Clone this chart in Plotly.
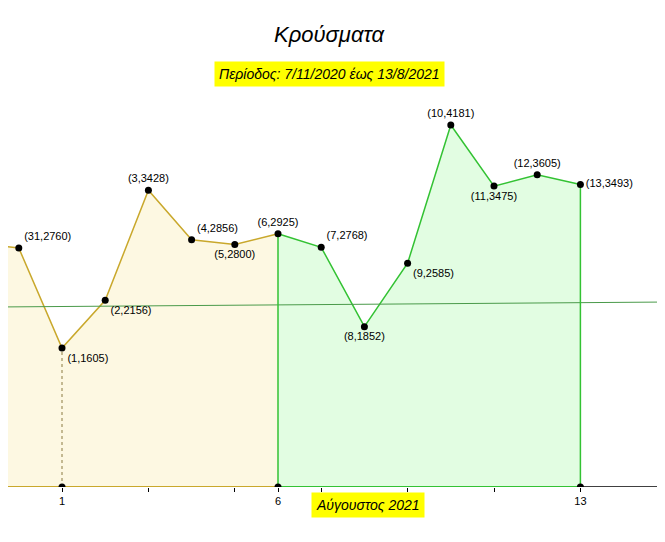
import plotly.graph_objects as go

# days: July 30 = -1, July 31 = 0, August n = n
days_before = [-1, 0, 1, 2, 3, 4, 5, 6]
cases_before = [2820, 2760, 1605, 2156, 3428, 2856, 2800, 2925]
days_after = [6, 7, 8, 9, 10, 11, 12, 13]
cases_after = [2925, 2768, 1852, 2585, 4181, 3475, 3605, 3493]
labels = ["(31,2760)", "(1,1605)", "(2,2156)", "(3,3428)", "(4,2856)", "(5,2800)", "(6,2925)",
          "(7,2768)", "(8,1852)", "(9,2585)", "(10,4181)", "(11,3475)", "(12,3605)", "(13,3493)"]
label_pos = ["top right", "bottom right", "bottom right", "top center", "top right", "bottom center",
             "top center", "top right", "bottom center", "bottom right", "top center",
             "bottom center", "top center", "middle right"]
trend_x = [-0.5, 16]
trend_y = [2079, 2140]

GOLD = "#c9a82c"
GREEN = "#33c233"
XMIN = -0.25
XMAX = XMIN + 665 / 43.2

fig = go.Figure()
fig.add_trace(go.Scatter(x=days_before, y=cases_before, mode="lines", fill="tozeroy",
                         fillcolor="#fdf8e2", line=dict(color=GOLD, width=1.5)))
fig.add_trace(go.Scatter(x=days_after, y=cases_after, mode="lines", fill="tozeroy",
                         fillcolor="#e2fde2", line=dict(color=GREEN, width=1.5)))
fig.add_trace(go.Scatter(x=trend_x, y=trend_y, mode="lines", line=dict(color="#4a9a4a", width=1)))

# vertical edges
fig.add_trace(go.Scatter(x=[1, 1], y=[0, cases_before[2]], mode="lines",
                         line=dict(color="#8a7a40", width=1, dash="dot")))
for d, v in [(6, cases_after[0]), (13, cases_after[-1])]:
    fig.add_trace(go.Scatter(x=[d, d], y=[0, v], mode="lines", line=dict(color=GREEN, width=1.5)))

# base axis line
fig.add_trace(go.Scatter(x=[XMIN, 6], y=[0, 0], mode="lines", line=dict(color=GOLD, width=2)))
fig.add_trace(go.Scatter(x=[6, 13], y=[0, 0], mode="lines", line=dict(color=GREEN, width=2)))
fig.add_trace(go.Scatter(x=[13, XMAX], y=[0, 0], mode="lines", line=dict(color="black", width=1.5)))

pts_x = days_before[1:] + days_after[1:]
pts_y = cases_before[1:] + cases_after[1:]
fig.add_trace(go.Scatter(x=pts_x, y=pts_y, mode="markers+text", text=labels,
                         textposition=label_pos, textfont=dict(size=11, color="black"),
                         marker=dict(color="black", size=7)))
fig.add_trace(go.Scatter(x=[1, 6, 13], y=[0, 0, 0], mode="markers", marker=dict(color="black", size=7)))

fig.update_layout(
    width=665, height=542, showlegend=False,
    margin=dict(l=0, r=0, t=0, b=63),
    plot_bgcolor="white", paper_bgcolor="white",
    font=dict(family="Liberation Sans", color="black"),
    xaxis=dict(range=[XMIN, XMAX], showgrid=False, zeroline=False, showline=False,
               tickvals=[1, 3, 5, 6, 7, 9, 11, 13], ticktext=["1", "", "", "6", "", "", "", "13"],
               ticks="outside", ticklen=4, tickcolor="black", tickfont=dict(size=11)),
    yaxis=dict(range=[0, 5532], visible=False),
    annotations=[
        dict(text="<i>Κρούσματα</i>", x=0.484, y=0.975, xref="paper", yref="paper",
             showarrow=False, font=dict(size=22)),
        dict(text="<i>Περίοδος: 7/11/2020 έως 13/8/2021</i>", x=0.484, y=0.889, xref="paper",
             yref="paper", showarrow=False, bgcolor="yellow", borderpad=4, font=dict(size=14)),
        dict(text="<i>Αύγουστος 2021</i>", x=0.541, y=-0.065, xref="paper", yref="paper",
             showarrow=False, bgcolor="yellow", borderpad=4, font=dict(size=14)),
    ],
)
fig.write_html("out.html")
